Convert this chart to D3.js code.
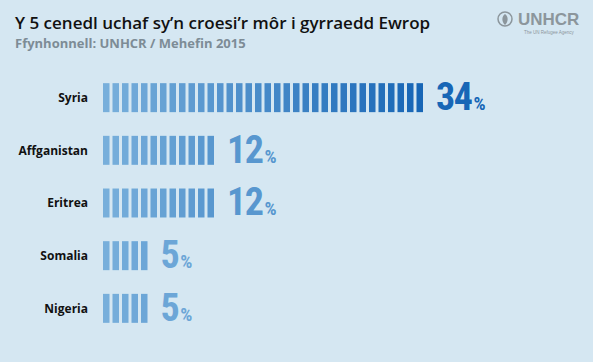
<!DOCTYPE html>
<html>
<head>
<meta charset="utf-8">
<script src="https://cdn.jsdelivr.net/npm/d3@7"></script>
<style>
  body { margin: 0; background: #d5e7f2; }
  svg { display: block; }
</style>
</head>
<body>
<div id="chart"></div>
<script>
// Data
const countries = ["Syria", "Affganistan", "Eritrea", "Somalia", "Nigeria"]
const shares = [34, 12, 12, 5, 5]
const title = "Y 5 cenedl uchaf sy\u2019n croesi\u2019r môr i gyrraedd Ewrop"
const source = "Ffynhonnell: UNHCR / Mehefin 2015"

const W = 593, H = 362
const margin = { top: 70, right: 20, bottom: 26, left: 103 }

const svg = d3.select("#chart").append("svg")
  .attr("width", W)
  .attr("height", H)

svg.append("rect")
  .attr("width", W).attr("height", H)
  .attr("fill", "#d5e7f2")

// Title + source
svg.append("text")
  .attr("x", 15).attr("y", 29)
  .style("font-family", "'Open Sans', sans-serif")
  .style("font-weight", 600)
  .style("font-size", "17px")
  .attr("fill", "#111")
  .text(title)

svg.append("text")
  .attr("x", 15).attr("y", 48)
  .style("font-family", "'Open Sans', sans-serif")
  .style("font-weight", 700)
  .style("font-size", "13px")
  .attr("fill", "#7d8c96")
  .text(source)

// Scales: one stripe per percentage point
const maxVal = d3.max(shares)
const pitch = 9.5
const x = d3.scaleLinear()
  .domain([0, maxVal])
  .range([margin.left, margin.left + maxVal * pitch])

const y = d3.scaleBand()
  .domain(countries)
  .range([margin.top, H - margin.bottom])
  .paddingInner(0.45)
  .paddingOuter(0.25)

const color = d3.scaleLinear()
  .domain([0, maxVal - 1])
  .range(["#78afdb", "#1766b6"])
  .interpolate(d3.interpolateRgb)

const rows = svg.selectAll("g.row")
  .data(countries.map((c, i) => ({ country: c, value: shares[i] })))
  .enter().append("g")
  .attr("class", "row")

// category labels
rows.append("text")
  .attr("x", margin.left - 15)
  .attr("y", d => y(d.country) + y.bandwidth() / 2)
  .attr("dy", "0.35em")
  .attr("text-anchor", "end")
  .style("font-family", "'Open Sans', sans-serif")
  .style("font-weight", 700)
  .style("font-size", "12px")
  .attr("fill", "#111")
  .text(d => d.country)

// stripes
rows.selectAll("rect.stripe")
  .data(d => d3.range(d.value).map(i => ({ i, country: d.country })))
  .enter().append("rect")
  .attr("class", "stripe")
  .attr("x", d => x(d.i))
  .attr("y", d => y(d.country))
  .attr("width", 6.5)
  .attr("height", y.bandwidth())
  .attr("fill", d => color(d.i))

// value labels
const val = rows.append("text")
  .attr("x", d => x(d.value) + 10)
  .attr("y", d => y(d.country) + y.bandwidth() - 2)
  .style("font-family", "'Liberation Sans Narrow', 'Roboto Condensed', sans-serif")
  .style("font-weight", 700)
  .attr("fill", d => color(d.value - 1))

val.append("tspan")
  .style("font-size", "38px")
  .style("letter-spacing", "-1.5px")
  .text(d => d.value)

val.append("tspan")
  .attr("dx", 2)
  .style("font-size", "19px")
  .text("%")

// UNHCR logo
const logo = svg.append("g")
  .attr("transform", "translate(497,12)")
  .attr("fill", "#8c969c")
  .attr("stroke", "#8c969c")

logo.append("circle")
  .attr("cx", 8).attr("cy", 7).attr("r", 7)
  .attr("fill", "none").attr("stroke-width", 1.5)
logo.append("path")
  .attr("d", "M8 2 C4.5 4 4.5 10 8 13 C11.5 10 11.5 4 8 2 Z")
  .attr("fill", "#8c969c").attr("stroke", "none")

logo.append("text")
  .attr("x", 21).attr("y", 13)
  .attr("stroke", "none")
  .style("font-family", "'Liberation Sans', sans-serif")
  .style("font-weight", 700)
  .style("font-size", "17px")
  .text("UNHCR")

logo.append("text")
  .attr("x", 27).attr("y", 22)
  .attr("stroke", "none")
  .style("font-family", "'Liberation Sans', sans-serif")
  .style("font-size", "4.5px")
  .text("The UN Refugee Agency")
</script>
</body>
</html>
